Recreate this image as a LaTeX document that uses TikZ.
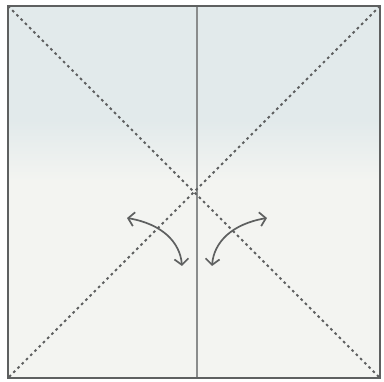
\documentclass[tikz,border=0pt]{standalone}
\usepackage{tikz}
\usetikzlibrary{arrows.meta}

\definecolor{paperblue}{HTML}{E2EAEB}
\definecolor{paperlight}{HTML}{F3F4F1}
\definecolor{edgegray}{HTML}{5E6060}
\definecolor{linegray}{HTML}{8A8C8C}

\begin{document}
\begin{tikzpicture}[
    x=1pt, y=-1pt,
    edge/.style={draw=edgegray, line width=2pt},
    crease/.style={draw=linegray, line width=1.3pt},
    valley/.style={draw=edgegray, line width=2pt, dash pattern=on 2.6pt off 3.4pt},
    swing/.style={draw=edgegray, line width=1.7pt, {Straight Barb[length=6pt,width=14pt]}-{Straight Barb[length=6pt,width=14pt]}}
]
\useasboundingbox (0,0) rectangle (384,382);
\fill[white] (0,0) rectangle (384,382);

% paper corners
\coordinate (tl) at (8,6);
\coordinate (tr) at (380,6);
\coordinate (br) at (380,378);
\coordinate (bl) at (8,378);
\coordinate (mtop) at (197,6);
\coordinate (mbot) at (197,378);

% paper tint
\fill[paperblue] (tl) rectangle (380,120);
\shade[top color=paperblue, bottom color=paperlight] (8,120) rectangle (380,180);
\fill[paperlight] (8,180) rectangle (br);

% creases
\draw[crease] (mtop) -- (mbot);
\draw[valley] (tl) -- (br);
\draw[valley] (tr) -- (bl);
\draw[edge] (tl) rectangle (br);

% fold arrows
\coordinate (la) at (127,218);
\coordinate (lb) at (182,266);
\coordinate (ra) at (267,218);
\coordinate (rb) at (212,266);
\draw[swing] (la) .. controls (162,224) and (180,242) .. (lb);
\draw[swing] (ra) .. controls (232,224) and (214,242) .. (rb);
\end{tikzpicture}
\end{document}
